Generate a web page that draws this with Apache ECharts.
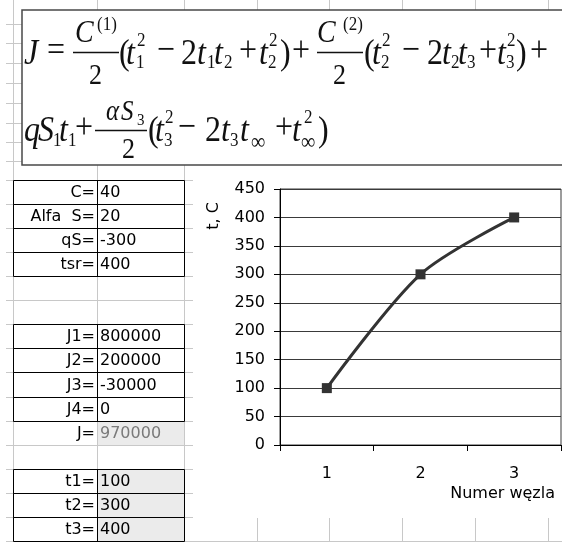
<!DOCTYPE html>
<html lang="pl">
<head>
<meta charset="UTF-8">
<script src="https://cdn.jsdelivr.net/npm/echarts@6.0.0/dist/echarts.min.js"></script>
<title>Numer węzla</title>
<style>body{margin:0;background:#fff;}</style>
</head>
<body>
<div id="main" style="width:562px;height:542px;"></div>
<script type="text/javascript">
// dane z arkusza
var categories = ['1', '2', '3'];
var nodeTemps = [100, 300, 400];          // t1, t2, t3
var inputLabels = ['C=', 'Alfa  S=', 'qS=', 'tsr='];
var inputValues = [40, 20, -300, 400];
var partLabels = ['J1=', 'J2=', 'J3=', 'J4='];
var partValues = [800000, 200000, -30000, 0];
var totalLabel = 'J=';
var totalValue = 970000;
var tempLabels = ['t1=', 't2=', 't3='];
var yMin = 0, yMax = 450, yStep = 50;

var myChart = echarts.init(document.getElementById('main'));

// ---- tlo arkusza ----
var g = [];
var GRID = '#c8c8c8';
function hline(x1, x2, y, c, w) {
    g.push({type: 'line', silent: true, shape: {x1: x1, y1: y, x2: x2, y2: y}, style: {stroke: c, lineWidth: w || 1}});
}
function vline(x, y1, y2, c, w) {
    g.push({type: 'line', silent: true, shape: {x1: x, y1: y1, x2: x, y2: y2}, style: {stroke: c, lineWidth: w || 1}});
}
var rows = [180, 204, 228, 252, 276, 300, 324, 348, 372, 397, 421, 445, 469, 493, 517, 541];
vline(13.5, 0, 542, GRID);
[97.5, 184.5].forEach(function (x) { vline(x, 0, 10, GRID); vline(x, 165, 542, GRID); });
[257.5, 329.5, 402.5, 475.5, 548.5].forEach(function (x) { vline(x, 0, 10, GRID); vline(x, 518, 542, GRID); });
[24, 43, 63, 83, 103, 123, 142, 161].forEach(function (y) { hline(6, 22, y + 0.5, GRID); });
rows.forEach(function (y, i) { hline(6, i == rows.length - 1 ? 562 : 193, y + 0.5, GRID); });

// ---- tabelki ----
var FONT = '16px "DejaVu Sans"';
function cellRow(r, label, value, opt) {
    opt = opt || {};
    var top = rows[r], h = rows[r + 1] - rows[r], cy = top + h / 2 + 1;
    if (opt.shade) {
        g.push({type: 'rect', silent: true, shape: {x: 98, y: top + 1, width: 86, height: h - 1}, style: {fill: '#ebebeb'}});
    }
    if (opt.border !== false) {
        g.push({type: 'rect', silent: true, shape: {x: 13.5, y: top + 0.5, width: 171, height: h}, style: {fill: null, stroke: '#000', lineWidth: 1}});
        vline(97.5, top, top + h, '#000');
    }
    g.push({type: 'text', silent: true, style: {text: label, x: 95, y: cy, align: 'right', verticalAlign: 'middle', font: FONT, fill: '#000'}});
    g.push({type: 'text', silent: true, style: {text: String(value), x: 100, y: cy, align: 'left', verticalAlign: 'middle', font: FONT, fill: opt.gray ? '#7a7a7a' : '#000'}});
}
inputLabels.forEach(function (l, i) { cellRow(i, l, inputValues[i]); });
partLabels.forEach(function (l, i) { cellRow(6 + i, l, partValues[i]); });
cellRow(10, totalLabel, totalValue, {shade: true, border: false, gray: true});
tempLabels.forEach(function (l, i) { cellRow(12 + i, l, nodeTemps[i], {shade: true}); });

// ---- wzor ----
g.push({type: 'rect', silent: true, shape: {x: 22, y: 10, width: 560, height: 155}, style: {fill: '#fff', stroke: '#484848', lineWidth: 1.5}});
var SY = 1.15, F = 32, s = 17;
function ft(str, x, base, size, it) {
    g.push({type: 'text', silent: true, x: x, y: base, scaleY: SY,
        style: {text: str, x: 0, y: -0.3 * size, align: 'left', verticalAlign: 'middle',
            font: (it ? 'italic ' : '') + size + 'px "Liberation Serif"', fill: '#111'}});
}
function bar(x1, x2, y) {
    g.push({type: 'line', silent: true, shape: {x1: x1, y1: y, x2: x2, y2: y}, style: {stroke: '#111', lineWidth: 1.3}});
}
// linia 1
var B1 = 65, O1 = 62, P1 = 47, S1 = 69;
ft('J', 24, B1, F, 1); ft('=', 47, O1, F, 0);
bar(73, 119, 52.5); ft('C', 75, 43, 28, 1); ft('(1)', 97, 31, s, 0); ft('2', 89, 85, 26, 0);
ft('(', 119, B1, F, 0); ft('t', 126, B1, F, 1); ft('2', 137, P1, s, 0); ft('1', 136, S1, s, 0);
ft('\u2212', 157, O1, F, 0);
ft('2', 181, B1, F, 0); ft('t', 197, B1, F, 1); ft('1', 207, S1, s, 0); ft('t', 214, B1, F, 1); ft('2', 224, S1, s, 0);
ft('+', 239, O1, F, 0); ft('t', 259, B1, F, 1); ft('2', 269, P1, s, 0); ft('2', 268, S1, s, 0); ft(')', 280, B1, F, 0);
ft('+', 292, O1, F, 0);
bar(317, 363, 52.5); ft('C', 317, 43, 28, 1); ft('(2)', 343, 31, s, 0); ft('2', 333, 85, 26, 0);
ft('(', 364, B1, F, 0); ft('t', 372, B1, F, 1); ft('2', 382, P1, s, 0); ft('2', 381, S1, s, 0);
ft('\u2212', 402, O1, F, 0);
ft('2', 427, B1, F, 0); ft('t', 442, B1, F, 1); ft('2', 451, S1, s, 0); ft('t', 458, B1, F, 1); ft('3', 467, S1, s, 0);
ft('+', 479, O1, F, 0); ft('t', 497, B1, F, 1); ft('2', 507, P1, s, 0); ft('3', 506, S1, s, 0); ft(')', 516, B1, F, 0);
ft('+', 530, O1, F, 0);
// linia 2
var B2 = 142, O2 = 139, P2 = 124, S2 = 147;
ft('q', 24, B2, F, 1); ft('S', 38, B2, F, 1); ft('1', 53, S2, s, 0); ft('t', 59, B2, F, 1); ft('1', 68, S2, s, 0);
ft('+', 75, O2, F, 0);
bar(95, 147, 130.5); ft('\u03b1', 106, 121, 25, 1); ft('S', 121, 121, 25, 1); ft('3', 137, 126, 15, 0); ft('2', 122, 159, 26, 0);
ft('(', 148, B2, F, 0); ft('t', 155, B2, F, 1); ft('2', 165, P2, s, 0); ft('3', 164, S2, s, 0);
ft('\u2212', 178, O2, F, 0);
ft('2', 205, B2, F, 0); ft('t', 221, B2, F, 1); ft('3', 230, S2, s, 0); ft('t', 240, B2, F, 1); ft('\u221e', 251, S2 + 3, 20, 0);
ft('+', 275, O2, F, 0); ft('t', 292, B2, F, 1); ft('2', 304, P2, s, 0); ft('\u221e', 301, S2 + 3, 20, 0); ft(')', 318, B2, F, 0);

// tytul osi Y
g.push({type: 'text', silent: true, x: 214, y: 216, rotation: Math.PI / 2,
    style: {text: 't, C', x: 0, y: 0, align: 'center', verticalAlign: 'middle', font: FONT, fill: '#000'}});

var option = {
    animation: false,
    backgroundColor: '#fff',
    grid: {left: 280, top: 189, right: 1, bottom: 97, show: true, borderColor: '#3a3a3a', borderWidth: 1},
    xAxis: {
        type: 'category',
        data: categories,
        boundaryGap: true,
        axisLine: {lineStyle: {color: '#000', width: 1}},
        axisTick: {show: true, length: 6, lineStyle: {color: '#000'}},
        axisLabel: {margin: 21, color: '#000', fontFamily: 'DejaVu Sans', fontSize: 16},
        splitLine: {show: false},
        name: 'Numer węzla',
        nameLocation: 'end',
        nameGap: -6,
        nameMoveOverlap: false,
        nameTextStyle: {color: '#000', fontFamily: 'DejaVu Sans', fontSize: 16, align: 'right', verticalAlign: 'top', padding: [41, 0, 0, 0]}
    },
    yAxis: {
        type: 'value',
        min: yMin,
        max: yMax,
        interval: yStep,
        axisLine: {show: true, lineStyle: {color: '#000', width: 1}},
        axisTick: {show: true, length: 6, lineStyle: {color: '#000'}},
        axisLabel: {margin: 15, color: '#000', fontFamily: 'DejaVu Sans', fontSize: 16},
        splitLine: {show: true, lineStyle: {color: '#3a3a3a', width: 1}}
    },
    series: [{
        type: 'line',
        data: nodeTemps,
        smooth: 0.3,
        symbol: 'rect',
        symbolSize: 10,
        lineStyle: {color: '#333', width: 3},
        itemStyle: {color: '#333'},
        z: 3
    }],
    graphic: {elements: g}
};

myChart.setOption(option);
</script>
</body>
</html>
